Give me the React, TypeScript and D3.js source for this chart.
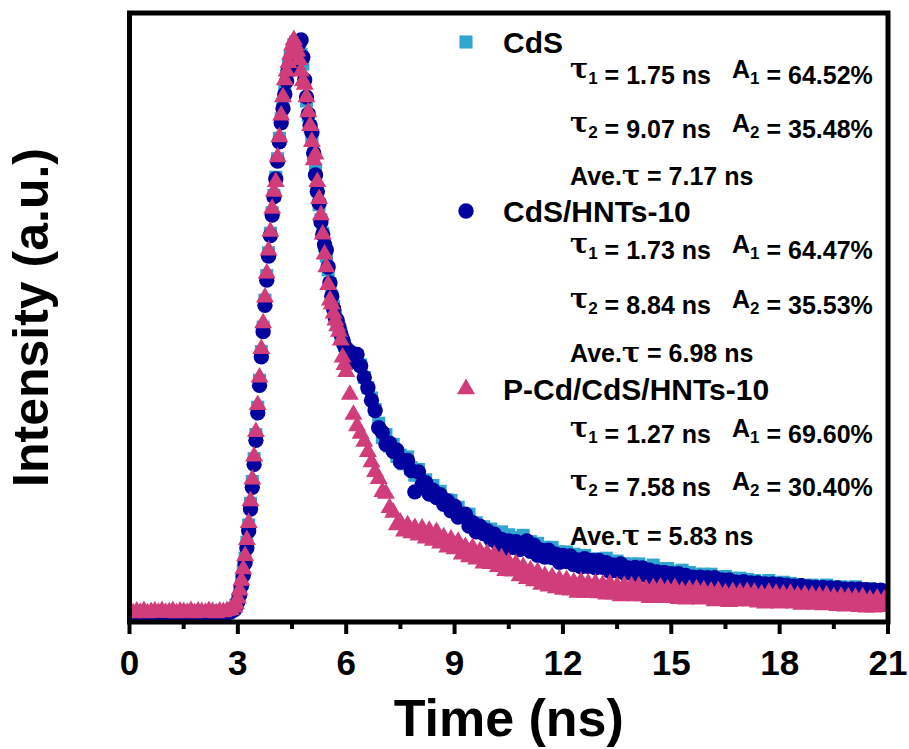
import React from 'react';
import * as d3 from 'd3';

// time channels (ns), 10 per row
const timeNs = [
  0, 0.1, 0.2, 0.3, 0.4, 0.5, 0.6, 0.7, 0.8, 0.9,
  1, 1.1, 1.2, 1.3, 1.4, 1.5, 1.6, 1.7, 1.8, 1.9,
  2, 2.1, 2.2, 2.3, 2.4, 2.5, 2.6, 2.7, 2.8, 2.9,
  2.95, 3, 3.05, 3.1, 3.15, 3.2, 3.25, 3.3, 3.35, 3.4,
  3.45, 3.5, 3.55, 3.6, 3.65, 3.7, 3.75, 3.8, 3.85, 3.9,
  3.95, 4, 4.05, 4.1, 4.15, 4.2, 4.25, 4.3, 4.35, 4.4,
  4.45, 4.5, 4.55, 4.6, 4.65, 4.7, 4.75, 4.8, 4.85, 4.9,
  4.95, 5, 5.05, 5.1, 5.15, 5.2, 5.25, 5.3, 5.35, 5.4,
  5.45, 5.5, 5.55, 5.6, 5.65, 5.7, 5.75, 5.8, 5.85, 5.9,
  5.95, 6, 6.1, 6.2, 6.3, 6.4, 6.5, 6.6, 6.7, 6.8,
  6.9, 7, 7.1, 7.2, 7.3, 7.4, 7.5, 7.6, 7.7, 7.8,
  7.9, 8, 8.1, 8.2, 8.3, 8.4, 8.5, 8.6, 8.7, 8.8,
  8.9, 9, 9.1, 9.2, 9.3, 9.4, 9.5, 9.6, 9.7, 9.8,
  9.9, 10, 10.1, 10.2, 10.3, 10.4, 10.5, 10.6, 10.7, 10.8,
  10.9, 11, 11.1, 11.2, 11.3, 11.4, 11.5, 11.6, 11.7, 11.8,
  11.9, 12, 12.1, 12.2, 12.3, 12.4, 12.5, 12.6, 12.7, 12.8,
  12.9, 13, 13.1, 13.2, 13.3, 13.4, 13.5, 13.6, 13.7, 13.8,
  13.9, 14, 14.1, 14.2, 14.3, 14.4, 14.5, 14.6, 14.7, 14.8,
  14.9, 15, 15.1, 15.2, 15.3, 15.4, 15.5, 15.6, 15.7, 15.8,
  15.9, 16, 16.1, 16.2, 16.3, 16.4, 16.5, 16.6, 16.7, 16.8,
  16.9, 17, 17.1, 17.2, 17.3, 17.4, 17.5, 17.6, 17.7, 17.8,
  17.9, 18, 18.1, 18.2, 18.3, 18.4, 18.5, 18.6, 18.7, 18.8,
  18.9, 19, 19.1, 19.2, 19.3, 19.4, 19.5, 19.6, 19.7, 19.8,
  19.9, 20, 20.1, 20.2, 20.3, 20.4, 20.5, 20.6, 20.7, 20.8,
  20.9, 21,
];

// normalised intensity, CdS
const cdsValues = [
  0.000, -0.001, 0.001, -0.002, 0.000, 0.001, -0.001, 0.000, 0.002, -0.001,
  0.000, 0.001, -0.002, 0.000, 0.001, -0.001, 0.000, 0.002, -0.001, 0.000,
  0.001, -0.001, 0.000, 0.002, -0.001, 0.000, 0.001, 0.000, 0.002, 0.006,
  0.012, 0.022, 0.036, 0.052, 0.072, 0.094, 0.122, 0.152, 0.190, 0.228,
  0.268, 0.310, 0.358, 0.405, 0.455, 0.498, 0.545, 0.588, 0.628, 0.662,
  0.698, 0.728, 0.760, 0.792, 0.828, 0.862, 0.888, 0.915, 0.938, 0.956,
  0.970, 0.982, 0.992, 0.996, 0.992, 0.985, 0.975, 0.958, 0.925, 0.893,
  0.868, 0.848, 0.826, 0.800, 0.770, 0.738, 0.712, 0.685, 0.662, 0.640,
  0.622, 0.598, 0.574, 0.552, 0.534, 0.518, 0.506, 0.496, 0.486, 0.474,
  0.466, 0.458, 0.452, 0.440, 0.448, 0.432, 0.410, 0.392, 0.374, 0.354,
  0.330, 0.305, 0.310, 0.290, 0.293, 0.272, 0.274, 0.259, 0.271, 0.252,
  0.239, 0.249, 0.230, 0.231, 0.212, 0.221, 0.204, 0.211, 0.193, 0.196,
  0.195, 0.179, 0.183, 0.165, 0.169, 0.171, 0.151, 0.156, 0.141, 0.149,
  0.137, 0.145, 0.128, 0.136, 0.140, 0.125, 0.135, 0.120, 0.130, 0.124,
  0.134, 0.118, 0.123, 0.107, 0.120, 0.106, 0.113, 0.099, 0.113, 0.099,
  0.105, 0.091, 0.105, 0.093, 0.101, 0.085, 0.097, 0.099, 0.084, 0.092,
  0.081, 0.093, 0.082, 0.094, 0.076, 0.086, 0.089, 0.076, 0.084, 0.070,
  0.084, 0.072, 0.084, 0.068, 0.078, 0.068, 0.082, 0.068, 0.076, 0.062,
  0.076, 0.062, 0.071, 0.058, 0.073, 0.061, 0.069, 0.055, 0.066, 0.055,
  0.066, 0.052, 0.066, 0.053, 0.061, 0.048, 0.062, 0.049, 0.059, 0.047,
  0.059, 0.047, 0.057, 0.044, 0.055, 0.042, 0.052, 0.045, 0.055, 0.041,
  0.051, 0.040, 0.052, 0.041, 0.050, 0.037, 0.048, 0.038, 0.046, 0.036,
  0.047, 0.036, 0.045, 0.034, 0.047, 0.035, 0.044, 0.032, 0.044, 0.033,
  0.043, 0.032, 0.044, 0.032, 0.041, 0.030, 0.041, 0.030, 0.039, 0.031,
  0.038, 0.034,
];

// CdS/HNTs-10
const hntsValues = [
  -0.003, -0.004, -0.002, -0.003, -0.004, -0.003, -0.002, -0.004, -0.003, -0.002,
  -0.004, -0.003, -0.002, -0.004, -0.003, -0.003, -0.002, -0.004, -0.003, -0.002,
  -0.003, -0.004, -0.002, -0.003, -0.004, -0.002, -0.003, -0.002, 0.000, 0.004,
  0.010, 0.018, 0.030, 0.046, 0.064, 0.086, 0.112, 0.142, 0.180, 0.218,
  0.258, 0.300, 0.348, 0.396, 0.446, 0.490, 0.536, 0.580, 0.622, 0.658,
  0.694, 0.726, 0.757, 0.788, 0.822, 0.855, 0.880, 0.905, 0.928, 0.946,
  0.955, 0.962, 0.975, 0.985, 0.990, 0.995, 1.000, 0.970, 0.930, 0.900,
  0.870, 0.850, 0.838, 0.802, 0.764, 0.735, 0.715, 0.682, 0.660, 0.642,
  0.633, 0.603, 0.575, 0.552, 0.530, 0.514, 0.510, 0.498, 0.486, 0.476,
  0.466, 0.460, 0.455, 0.438, 0.450, 0.430, 0.410, 0.392, 0.370, 0.352,
  0.322, 0.314, 0.293, 0.295, 0.281, 0.283, 0.262, 0.265, 0.265, 0.247,
  0.210, 0.245, 0.222, 0.226, 0.206, 0.213, 0.200, 0.205, 0.188, 0.194,
  0.177, 0.185, 0.166, 0.170, 0.171, 0.150, 0.156, 0.140, 0.150, 0.137,
  0.142, 0.127, 0.136, 0.119, 0.127, 0.111, 0.124, 0.113, 0.123, 0.109,
  0.119, 0.124, 0.106, 0.117, 0.099, 0.108, 0.096, 0.108, 0.095, 0.101,
  0.087, 0.099, 0.088, 0.098, 0.083, 0.091, 0.079, 0.093, 0.080, 0.090,
  0.077, 0.090, 0.078, 0.086, 0.071, 0.082, 0.072, 0.084, 0.068, 0.077,
  0.067, 0.078, 0.064, 0.077, 0.064, 0.073, 0.059, 0.070, 0.061, 0.069,
  0.057, 0.067, 0.057, 0.067, 0.054, 0.064, 0.051, 0.061, 0.053, 0.061,
  0.050, 0.060, 0.049, 0.060, 0.046, 0.056, 0.047, 0.056, 0.044, 0.052,
  0.044, 0.053, 0.042, 0.051, 0.043, 0.051, 0.039, 0.049, 0.040, 0.049,
  0.038, 0.048, 0.038, 0.047, 0.036, 0.045, 0.037, 0.046, 0.035, 0.044,
  0.034, 0.043, 0.033, 0.043, 0.034, 0.042, 0.032, 0.042, 0.031, 0.040,
  0.031, 0.040, 0.032, 0.040, 0.030, 0.039, 0.031, 0.038, 0.029, 0.038,
  0.031, 0.036,
];

// P-Cd/CdS/HNTs-10
const pcdValues = [
  0.000, -0.002, 0.001, -0.001, 0.002, -0.002, 0.000, 0.001, -0.001, 0.002,
  -0.001, 0.000, 0.002, -0.002, 0.001, 0.000, -0.001, 0.002, -0.002, 0.001,
  0.000, -0.001, 0.002, 0.000, -0.002, 0.001, 0.000, 0.002, 0.004, 0.008,
  0.014, 0.024, 0.038, 0.055, 0.075, 0.098, 0.126, 0.156, 0.194, 0.232,
  0.272, 0.315, 0.362, 0.410, 0.460, 0.505, 0.550, 0.592, 0.632, 0.665,
  0.705, 0.735, 0.752, 0.795, 0.830, 0.868, 0.900, 0.930, 0.945, 0.960,
  0.975, 0.990, 1.000, 0.990, 0.980, 0.965, 0.945, 0.928, 0.922, 0.900,
  0.874, 0.850, 0.822, 0.790, 0.800, 0.752, 0.722, 0.694, 0.660, 0.625,
  0.603, 0.572, 0.545, 0.538, 0.522, 0.510, 0.500, 0.490, 0.475, 0.445,
  0.432, 0.420, 0.380, 0.345, 0.325, 0.312, 0.298, 0.280, 0.262, 0.245,
  0.233, 0.210, 0.207, 0.182, 0.174, 0.152, 0.156, 0.141, 0.152, 0.138,
  0.147, 0.134, 0.146, 0.129, 0.142, 0.125, 0.140, 0.120, 0.131, 0.113,
  0.127, 0.110, 0.123, 0.101, 0.114, 0.096, 0.112, 0.092, 0.106, 0.085,
  0.102, 0.084, 0.100, 0.079, 0.094, 0.072, 0.087, 0.071, 0.084, 0.063,
  0.079, 0.058, 0.073, 0.054, 0.070, 0.048, 0.063, 0.045, 0.061, 0.042,
  0.057, 0.039, 0.056, 0.038, 0.052, 0.034, 0.053, 0.034, 0.050, 0.034,
  0.050, 0.033, 0.048, 0.031, 0.049, 0.031, 0.045, 0.028, 0.046, 0.030,
  0.045, 0.028, 0.045, 0.028, 0.040, 0.025, 0.042, 0.027, 0.043, 0.025,
  0.040, 0.025, 0.042, 0.023, 0.037, 0.022, 0.039, 0.024, 0.040, 0.022,
  0.038, 0.023, 0.036, 0.019, 0.037, 0.020, 0.033, 0.018, 0.035, 0.019,
  0.034, 0.019, 0.035, 0.019, 0.034, 0.017, 0.031, 0.015, 0.034, 0.017,
  0.032, 0.015, 0.031, 0.016, 0.032, 0.015, 0.029, 0.013, 0.030, 0.015,
  0.029, 0.013, 0.028, 0.012, 0.029, 0.013, 0.026, 0.011, 0.027, 0.010,
  0.026, 0.011, 0.025, 0.009, 0.026, 0.008, 0.022, 0.008, 0.024, 0.009,
  0.022, 0.010,
];

const xTickValues = [0, 3, 6, 9, 12, 15, 18, 21];
const xMinorTicks = [1.5, 4.5, 7.5, 10.5, 13.5, 16.5, 19.5];

const seriesNames = ['CdS', 'CdS/HNTs-10', 'P-Cd/CdS/HNTs-10'];
const tau1 = ['1.75', '1.73', '1.27'];
const amp1 = ['64.52', '64.47', '69.60'];
const tau2 = ['9.07', '8.84', '7.58'];
const amp2 = ['35.48', '35.53', '30.40'];
const aveTau = ['7.17', '6.98', '5.83'];

const series = [
  { values: cdsValues, color: '#2FA5CF', symbol: d3.symbolSquare, size: 170 },
  { values: hntsValues, color: '#02029E', symbol: d3.symbolCircle, size: 185 },
  { values: pcdValues, color: '#D03D7A', symbol: d3.symbolTriangle, size: 140 },
];

// legend baselines: [title, tau1, tau2, ave] per entry
const legendRows = [
  [53, 78, 132, 185],
  [222, 253, 308, 362],
  [400, 437, 490, 545],
];

const SERIF = "'DejaVu Serif', 'Liberation Serif', serif";

function Sub({ n }: { n: number }) {
  return (
    <>
      <tspan fontSize={17} dy={6}>{n}</tspan>
      <tspan dy={-6}>{''}</tspan>
    </>
  );
}

function Tau() {
  return <tspan fontFamily={SERIF} fontSize={27}>τ</tspan>;
}

export default function App() {
  const width = 909;
  const height = 749;
  const plot = { left: 129.5, right: 888, top: 13, bottom: 622 };

  const x = d3.scaleLinear().domain([0, 21]).range([plot.left, plot.right]);
  const y = d3.scaleLinear().domain([-0.0175, 1.047]).range([plot.bottom, plot.top]);

  return (
    <svg
      width={width}
      height={height}
      style={{ position: 'absolute', left: 0, top: 0, background: '#fff' }}
      fontFamily="'Liberation Sans', Arial, sans-serif"
      fontWeight="bold"
    >
      <defs>
        <clipPath id="plot-clip">
          <rect x={plot.left} y={plot.top} width={plot.right - plot.left} height={plot.bottom - plot.top} />
        </clipPath>
      </defs>

      {/* data */}
      <g clipPath="url(#plot-clip)">
        {series.map((s, si) => {
          const d = d3.symbol().type(s.symbol).size(s.size)() as string;
          const n = Math.min(timeNs.length, s.values.length);
          return (
            <g key={si} fill={s.color}>
              {timeNs.slice(0, n).map((t, i) => (
                <path key={i} d={d} transform={`translate(${x(t)},${y(s.values[i])})`} />
              ))}
            </g>
          );
        })}
      </g>

      {/* frame */}
      <rect
        x={plot.left}
        y={plot.top}
        width={plot.right - plot.left}
        height={plot.bottom - plot.top}
        fill="none"
        stroke="#000"
        strokeWidth={5}
      />

      {/* x ticks */}
      <g stroke="#000" strokeWidth={4}>
        {xTickValues.map((t) => (
          <line key={`M${t}`} x1={x(t)} x2={x(t)} y1={plot.bottom} y2={plot.bottom + 12} />
        ))}
        {xMinorTicks.map((t) => (
          <line key={`m${t}`} x1={x(t)} x2={x(t)} y1={plot.bottom} y2={plot.bottom + 7} />
        ))}
      </g>
      <g fontSize={35} textAnchor="middle">
        {xTickValues.map((t) => (
          <text key={t} x={x(t)} y={675}>{t}</text>
        ))}
      </g>

      {/* axis titles */}
      <text x={(plot.left + plot.right) / 2} y={736} fontSize={52} textAnchor="middle">Time (ns)</text>
      <text
        transform={`translate(48,${(plot.top + plot.bottom) / 2}) rotate(-90)`}
        fontSize={50}
        textAnchor="middle"
      >
        Intensity (a.u.)
      </text>

      {/* legend */}
      {series.map((s, si) => {
        const rows = legendRows[si];
        const d = d3.symbol().type(s.symbol).size(s.size)() as string;
        return (
          <g key={si} style={{ whiteSpace: 'pre' }}>
            <path d={d} fill={s.color} transform={`translate(466,${rows[0] - 11})`} />
            <text x={503} y={rows[0]} fontSize={30}>{seriesNames[si]}</text>
            <text x={570} y={rows[1]} fontSize={25}>
              <Tau />
              <Sub n={1} />
              <tspan>{` = ${tau1[si]} ns`}</tspan>
            </text>
            <text x={732} y={rows[1]} fontSize={25}>
              A<Sub n={1} />
              <tspan>{` = ${amp1[si]}%`}</tspan>
            </text>
            <text x={570} y={rows[2]} fontSize={25}>
              <Tau />
              <Sub n={2} />
              <tspan>{` = ${tau2[si]} ns`}</tspan>
            </text>
            <text x={732} y={rows[2]} fontSize={25}>
              A<Sub n={2} />
              <tspan>{` = ${amp2[si]}%`}</tspan>
            </text>
            <text x={570} y={rows[3]} fontSize={25}>
              Ave.<Tau />
              <tspan>{` = ${aveTau[si]} ns`}</tspan>
            </text>
          </g>
        );
      })}
    </svg>
  );
}
